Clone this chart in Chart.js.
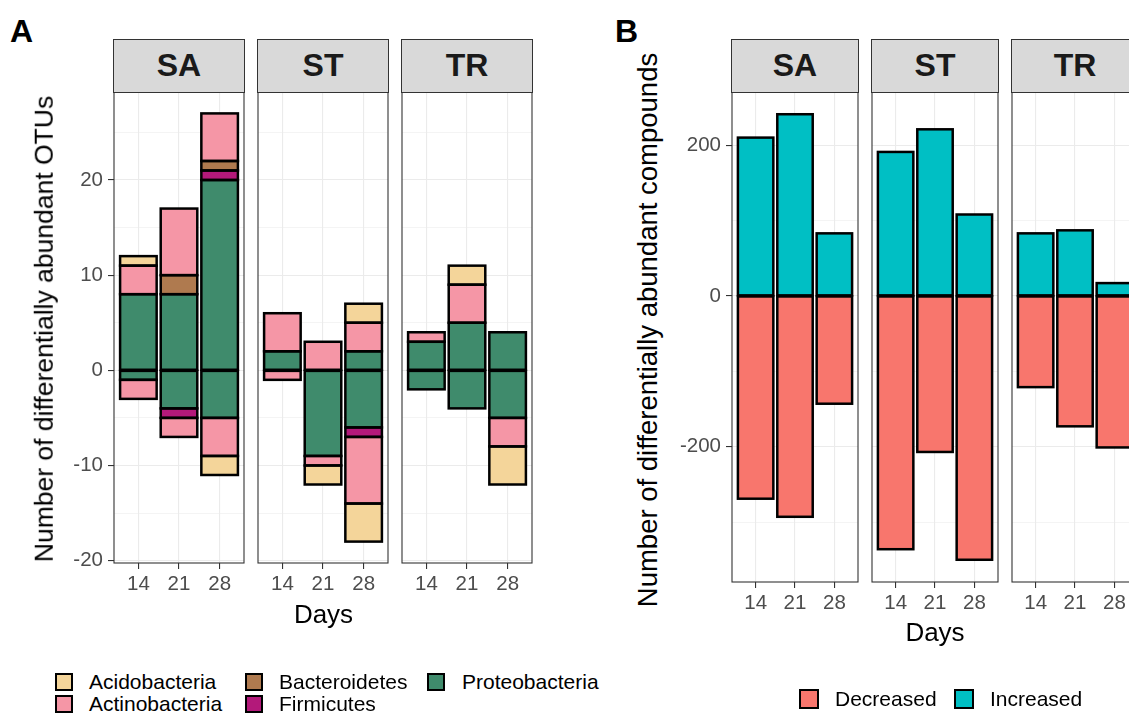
<!DOCTYPE html>
<html><head><meta charset="utf-8">
<script src="https://cdn.jsdelivr.net/npm/chart.js@4/dist/chart.umd.min.js"></script>
<style>
html,body{margin:0;padding:0;background:#fff;}
body{width:1129px;height:714px;position:relative;overflow:hidden;font-family:"Liberation Sans",Arial,sans-serif;color:#000;}
canvas{position:absolute;}
.t{position:absolute;white-space:nowrap;line-height:1;}
.strip{position:absolute;background:#D9D9D9;border:1.1px solid #333;box-sizing:border-box;display:flex;align-items:center;justify-content:center;font-weight:bold;font-size:32px;color:#1A1A1A;}
.key{position:absolute;box-sizing:border-box;border:2px solid #000;}
</style>
</head><body>
<script>
// ---------- data ----------
const days = ['14','21','28'];
const sites = ['SA','ST','TR'];
const phyla = ['Acidobacteria','Actinobacteria','Bacteroidetes','Firmicutes','Proteobacteria'];
const phylaColors = ['#F4D59A','#F596A6','#AF7A4F','#B3197A','#3F8B6C'];
// rows: SA, ST, TR ; columns: day 14, 21, 28  (number of OTUs)
const acidoUp     = [[1,0,0],[0,0,2],[0,2,0]];
const acidoDown   = [[0,0,-2],[0,-2,-4],[0,0,-4]];
const actinoUp    = [[3,7,5],[4,3,3],[1,4,0]];
const actinoDown  = [[-2,-2,-4],[-1,-1,-7],[0,0,-3]];
const bacteroUp   = [[0,2,1],[0,0,0],[0,0,0]];
const bacteroDown = [[0,0,0],[0,0,0],[0,0,0]];
const firmiUp     = [[0,0,1],[0,0,0],[0,0,0]];
const firmiDown   = [[0,-1,0],[0,0,-1],[0,0,0]];
const proteoUp    = [[8,8,20],[2,0,2],[3,5,4]];
const proteoDown  = [[-1,-4,-5],[0,-9,-6],[-2,-4,-5]];
// compounds
const compGroups = ['Decreased','Increased'];
const compColors = ['#F8766D','#00BFC4'];
const compDecreased = [[-269,-293,-143],[-336,-207,-350],[-121,-173,-201]];
const compIncreased = [[210,241,83],[191,221,108],[83,87,17]];
// axis ticks
const otuMajor = [-20,-10,0,10,20];
const otuMinor = [-15,-5,5,15,25];
const otuRange = [-20.25, 29.25];
const compMajor = [-200,0,200];
const compMinor = [-300,-100,100];
const compRange = [-379.5, 270.5];

// ---------- layout ----------
Chart.defaults.font.family = '"Liberation Sans", Arial, sans-serif';
const LA = {lefts:[114,258,402], w:130, top:92, bottom:563, yW:62};
const LB = {lefts:[732,872,1012], w:126, top:92, bottom:582, yW:62};
const XH = 60;

const upArr = [acidoUp, actinoUp, bacteroUp, firmiUp, proteoUp];
const downArr = [acidoDown, actinoDown, bacteroDown, firmiDown, proteoDown];
const stackOrder = [4,3,2,1,0];

function otuDatasets(s){
  const ds=[];
  stackOrder.forEach(p=>{
    [upArr[p], downArr[p]].forEach(arr=>{
      ds.push({label:phyla[p], backgroundColor:phylaColors[p],
        data: days.map((d,i)=>({x:i+1, y: arr[s][i] || null}))});
    });
  });
  return ds;
}
function compDatasets(s){
  return [
    {label:compGroups[1], backgroundColor:compColors[1], data: days.map((d,i)=>({x:i+1,y:compIncreased[s][i]||null}))},
    {label:compGroups[0], backgroundColor:compColors[0], data: days.map((d,i)=>({x:i+1,y:compDecreased[s][i]||null}))}
  ];
}

// outline each bar segment with a centred stroke (like ggplot's colour = "black")
const barOutline = {id:'barOutline', afterDatasetsDraw(chart){
  const ctx = chart.ctx, a = chart.chartArea;
  ctx.save();
  ctx.beginPath(); ctx.rect(a.left, a.top, a.right-a.left, a.bottom-a.top); ctx.clip();
  ctx.strokeStyle = '#000000'; ctx.lineWidth = 2.5; ctx.lineJoin = 'miter';
  chart.data.datasets.forEach((ds, di)=>{
    const meta = chart.getDatasetMeta(di);
    meta.data.forEach((el, i)=>{
      if (ds.data[i].y == null) return;
      const p = el.getProps(['x','y','base','width'], true);
      const top = Math.min(p.y, p.base), h = Math.abs(p.base - p.y);
      ctx.strokeRect(p.x - p.width/2, top, p.width, h);
    });
  });
  ctx.restore();
}};

const panelBorder = {id:'panelBorder', afterDraw(chart){
  const {ctx, chartArea:a} = chart;
  ctx.save(); ctx.strokeStyle='#333333'; ctx.lineWidth=1.1;
  ctx.strokeRect(a.left, a.top, a.right-a.left, a.bottom-a.top); ctx.restore();
}};

function zeroPad(s){ s.paddingTop=0; s.paddingBottom=0; s.paddingLeft=0; s.paddingRight=0; }

function makeChart(L, idx, datasets, major, minor, range){
  const first = idx===0;
  const padL = first?0:2, yW = first?L.yW:0;
  const cv = document.createElement('canvas');
  const W = padL + yW + L.w + 2, H = 2 + (L.bottom-L.top) + XH;
  cv.width=W; cv.height=H;
  cv.style.left=(L.lefts[idx]-padL-yW)+'px'; cv.style.top=(L.top-2)+'px';
  cv.style.width=W+'px'; cv.style.height=H+'px';
  document.body.appendChild(cv);
  const allTicks = major.concat(minor).sort((a,b)=>a-b);
  const isMajor = v => major.indexOf(v)>=0;
  new Chart(cv, {
    type:'bar',
    data:{datasets},
    options:{
      responsive:false, animation:false, devicePixelRatio:1,
      layout:{padding:{left:padL, top:2, right:2, bottom:0}, autoPadding:false},
      plugins:{legend:{display:false}, tooltip:{enabled:false}},
      datasets:{bar:{borderWidth:0, categoryPercentage:1, barPercentage:0.9, inflateAmount:0.4}},
      scales:{
        x:{type:'linear', min:0.4, max:3.6, stacked:true, offset:false,
          afterBuildTicks: s=>{ s.ticks = days.map((d,i)=>({value:i+1})); },
          afterFit: s=>{ s.height=XH; zeroPad(s); },
          border:{display:false},
          grid:{offset:false, color:'#EBEBEB', lineWidth:1.1, drawTicks:true, tickLength:6, tickColor:'#333333', tickWidth:1.1},
          ticks:{color:'#4D4D4D', font:{size:20.5}, padding:3, maxRotation:0, autoSkip:false,
            callback:v=>days[Math.round(v)-1]}
        },
        y:{type:'linear', min:range[0], max:range[1], stacked:true,
          afterBuildTicks: s=>{ s.ticks = allTicks.map(v=>({value:v})); },
          afterFit: s=>{ s.width=yW; zeroPad(s); },
          border:{display:false},
          grid:{color:'#EBEBEB', lineWidth:c=>isMajor(c.tick.value)?1.1:0.55, drawTicks:first, tickLength:6,
            tickColor:c=>isMajor(c.tick.value)?'#333333':'rgba(0,0,0,0)', tickWidth:1.1},
          ticks:{display:first, color:'#4D4D4D', font:{size:20.5}, padding:5, autoSkip:false,
            callback:v=>isMajor(v)?String(v):''}
        }
      }
    },
    plugins:[barOutline, panelBorder]
  });
}

function addText(txt, left, top, size, opts){
  const d=document.createElement('div'); d.className='t'; d.textContent=txt;
  d.style.left=left+'px'; d.style.top=top+'px'; d.style.fontSize=size+'px';
  if (opts) Object.assign(d.style, opts);
  document.body.appendChild(d); return d;
}
function addStrip(L, idx, txt){
  const d=document.createElement('div'); d.className='strip'; d.textContent=txt;
  d.style.left=(L.lefts[idx]-0.55)+'px'; d.style.top='39px';
  d.style.width=(L.w+1.1)+'px'; d.style.height=(L.top-39+0.55)+'px';
  document.body.appendChild(d);
}
function addKey(left, top, size, color){
  const d=document.createElement('div'); d.className='key';
  d.style.left=left+'px'; d.style.top=top+'px'; d.style.width=size+'px'; d.style.height=size+'px';
  d.style.background=color; document.body.appendChild(d);
}

sites.forEach((s,i)=>{
  makeChart(LA, i, otuDatasets(i), otuMajor, otuMinor, otuRange);
  addStrip(LA, i, s);
  makeChart(LB, i, compDatasets(i), compMajor, compMinor, compRange);
  addStrip(LB, i, s);
});

// panel tags
addText('A', 10, 15, 32, {fontWeight:'bold'});
addText('B', 615, 15, 32, {fontWeight:'bold'});
// axis titles
addText('Days', 323.5, 601, 26, {transform:'translateX(-50%)'});
addText('Days', 935, 619, 26, {transform:'translateX(-50%)'});
addText('Number of differentially abundant OTUs', 44, 328.5, 26.5, {transform:'translate(-50%,-50%) rotate(-90deg)'});
addText('Number of differentially abundant compounds', 648, 330, 27.5, {transform:'translate(-50%,-50%) rotate(-90deg)'});

// legend A (column-wise, 2 rows)
const legAKeyX = [55,245,427], legATextX=[89,279,462], legARowY=[682,704];
phyla.forEach((p,k)=>{
  const col=Math.floor(k/2), row=k%2;
  addKey(legAKeyX[col], legARowY[row]-9, 18, phylaColors[k]);
  addText(p, legATextX[col], legARowY[row], 21, {transform:'translateY(-50%)', lineHeight:'1.15'});
});
// legend B
const legBKeyX=[799,954], legBTextX=[835,990], legBY=699;
compGroups.forEach((g,k)=>{
  addKey(legBKeyX[k], legBY-10, 20, compColors[k]);
  addText(g, legBTextX[k], legBY, 21, {transform:'translateY(-50%)', lineHeight:'1.15'});
});
</script>
</body></html>
